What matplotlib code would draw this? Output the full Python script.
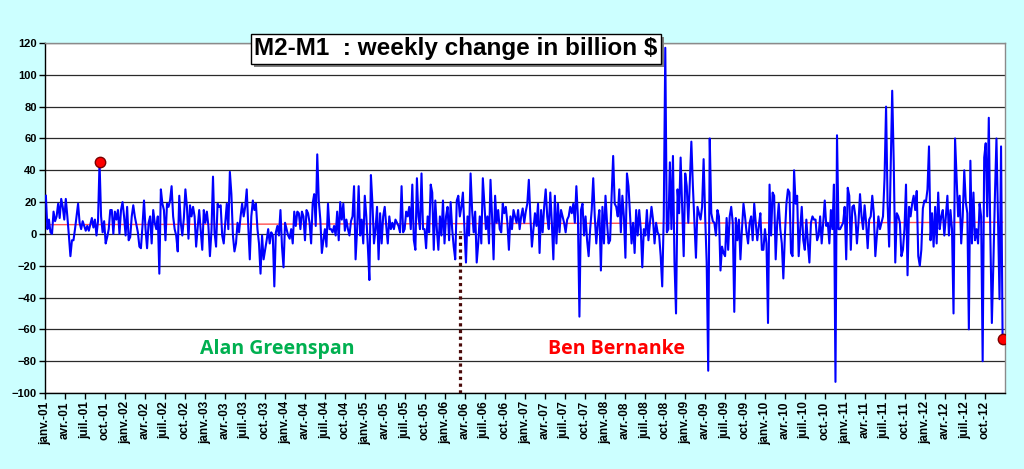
import matplotlib
matplotlib.use('Agg')
import matplotlib.pyplot as plt
import numpy as np
import pandas as pd
from matplotlib.patches import Rectangle
from matplotlib.transforms import IdentityTransform

plt.rcParams['font.family'] = ['Liberation Sans', 'DejaVu Sans']
plt.rcParams['font.weight'] = 'bold'

# ---------------- data (weekly change, billion $) ----------------
seg_2001 = [24, 3, 9, 1, 0, 14, 8, 11, 19, 10, 22, 17, 9, 22, 11, -1, -14, -4, -4, 3,
            11, 19, 7, 3, 8, 5, 2, 5, 2, 6, 10, 4, 9, -1, 8, 45, 11, 1, 8, -6,
            -2, 3, 15, 15, 0, 14, 9, 15, 0, 15, 20, 11, -1, 17, -4, -2, 11, 18, 11, 6,
            1, -8]
seg_2002 = [-9, 5, 21, 3, -9, 7, 11, -6, 15, 7, 3, 11, -25, 28, 19, 15, -4, 19, 17, 21,
            30, 11, 3, -1, -11, 24, 7, -1, 10, 28, 17, -3, 18, 11, 17, 11, -8, 4, 15, 2,
            -10, 15, 7, 14, 5, -14, 2, 36, 1, -8, 19, 17, 18, -1, -6, 7, 19, 3, 39, 25,
            -1, -11]
seg_2003 = [-6, 7, 1, 11, 19, 11, 17, 28, 5, -16, 11, 21, 15, 19, 3, -6, -25, -1, -16, -10,
            -4, 3, -6, 1, -1, -33, 1, 5, -1, 15, -8, -21, 7, 3, -1, -3, 3, -6, 14, 5,
            14, 13, 3, 14, 11, -4, 15, 13, 7, -6, 19, 25, 5, 50, 21, 9, -12, -4, 3, -8,
            19, 3]
seg_2004 = [3, 1, 5, -1, 14, -4, 20, 9, 19, 2, 9, 3, -1, 8, 11, 30, -16, 3, 30, -1,
            9, -6, 24, 11, -8, -29, 37, 19, -6, 3, 17, -16, 13, -6, 11, 17, 5, -6, 11, 3,
            7, 3, 9, 7, 5, 1, 30, 1, 3, 14, 11, 17, 3, 31, -4, -10, 35, 11, 3, 38,
            3, 3]
seg_2005 = [-9, 11, 1, 31, 26, -10, 21, 3, -10, 11, -1, 21, -6, 11, 17, -4, 20, 3, -8, -16,
            21, 24, 11, 17, 26, 3, -18, 11, -1, 38, 15, 1, 14, -18, -6, 11, -6, 35, 19, 3,
            11, -6, 34, 11, -16, 24, 7, 15, 3, 1, 19, 13, 17, 7, -10, 11, 3, 15, 11, 7,
            15, 3]
seg_2006 = [11, 16, 7, 14, 19, 34, 11, -8, 3, 13, 5, 19, -12, 15, 1, 17, 28, 11, 3, 26,
            7, -16, 24, -6, 19, 1, 15, 11, 7, 1, 9, 11, 17, 13, 19, 7, 30, 11, -52, 15,
            19, -1, 11, -4, -14, 3, 15, 35, 11, -6, 7, 15, -23, 17, -6, 24, 7, -6, -4, 24,
            49, 19]
seg_2008 = [17, 11, 28, 1, 24, 11, -15, 38, 30, 12, -6, 7, -12, 15, -1, 15, 3, -21, 3, -1,
            15, -4, 7, 17, 9, -6, 7, 1, -1, -14, -33, 11, 117, 1, 3, 45, 3, 49, -18, -50,
            28, 13, 48, 17, -14, 38, 30, 7, 33, 58, 30, 7, -15, 17, 13, 9, 17, 47, 11, -18,
            -86, 60]
seg_2009 = [13, 8, 7, -1, 15, 11, -23, -8, -12, -14, 10, -10, 11, 17, 7, -49, 10, -4, 9, -16,
            3, 19, 11, 1, -6, 7, 11, -4, 19, 7, -4, 5, 13, -10, -10, 3, -6, -56, 31, -1,
            26, 24, -16, 7, 19, 3, -6, -28, -1, 19, 28, 26, -12, -14, 40, 19, 24, -14, 3, 17,
            -4, -10]
seg_2010 = [9, -6, -18, 7, 11, 9, 9, -4, -1, 11, -6, 7, 21, 5, 7, -6, 15, 3, 31, -93,
            62, 3, 3, 5, 7, 17, -16, 29, 24, -10, 17, 18, 11, -6, 7, 25, 11, 3, 18, 7,
            -9, 9, 11, 24, 13, -14, -1, 11, 3, 7, 11, 35, 80, 19, -8, 40, 90, 45, -18, 13,
            11, 7, -14, -10, 3, 31, -26, 17]
seg_2012 = [11, 19, 24, 15, 27, -14, -20, -10, 16, 21, 20, 28, 55, -4, 13, -8, 17, -6, 26, 3,
            11, 15, -1, 11, 24, -1, 15, 3, -50, 60, 35, 11, 24, -6, 11, 40, 20, 13, -60, 46,
            -6, 26, -4, 3, -6, 19, 11, -80, 48, 57, 11, 73, -1, -56, -18, 24, 60, 11, -41, 55,
            -66]

values = np.array(seg_2001 + seg_2002 + seg_2003 + seg_2004 + seg_2005 + seg_2006 +
                  seg_2008 + seg_2009 + seg_2010 + seg_2012, dtype=float)
first_date = '2001-01-05'
dates = pd.date_range(first_date, periods=len(values), freq='7D')

trend_start, trend_end = 5.8, 7.3          # red reference line
bernanke_date = '2006-03-10'               # dotted separator
fr_months = {1: 'janv.', 4: 'avr.', 7: 'juil.', 10: 'oct.'}
tick_dates = pd.date_range('2001-01-01', '2012-10-01', freq='QS')
tick_labels = [f"{fr_months[d.month]}-{d.year % 100:02d}" for d in tick_dates]
y_ticks = list(range(-100, 121, 20))
title = "M2-M1  : weekly change in billion $"

# ---------------- figure ----------------
fig = plt.figure(figsize=(10.24, 4.69), dpi=100)
fig.patch.set_facecolor('#CCFFFF')
ax = fig.add_axes([45/1024, 76/469, 960/1024, 350/469])
ax.set_facecolor('white')

ax.plot(dates, values, color='#0000FF', lw=1.5, zorder=3)
ax.plot([dates[0], dates[-1]], [trend_start, trend_end], color='#FF5050', lw=1, zorder=2.5)
ax.vlines(pd.Timestamp(bernanke_date), -100, 2, colors='#4B0A0A',
          linestyles=(0, (1, 1.1)), lw=2.3, zorder=4)

spike_idx = int(np.argmax(values[:60]))
last_idx = len(values) - 1
for i in (spike_idx, last_idx):
    ax.plot(dates[i], values[i], 'o', ms=7.5, mfc='#FF0000', mec='#7A0000', mew=1, zorder=5)

ax.set_ylim(-100, 120)
ax.set_yticks(y_ticks)
ax.set_xlim(pd.Timestamp('2001-01-01'), pd.Timestamp('2013-01-01'))
ax.set_xticks(tick_dates)
ax.set_xticklabels(tick_labels, rotation=90, fontsize=8.5, fontweight='bold')
ax.tick_params(axis='x', direction='out', length=4, width=1, pad=2, color='black')
ax.tick_params(axis='y', direction='out', length=4, width=1, pad=2, labelsize=8, color='black')
for lab in ax.get_yticklabels():
    lab.set_fontweight('bold')

ax.set_axisbelow(True)
ax.yaxis.grid(True, color='#2a2a2a', lw=0.9)
ax.xaxis.grid(False)
for s in ('left', 'bottom'):
    ax.spines[s].set_color('black')
    ax.spines[s].set_linewidth(1)
for s in ('top', 'right'):
    ax.spines[s].set_color('#8a8a8a')
    ax.spines[s].set_linewidth(1)

# title box with drop shadow
tx, ty = 456/1024, 1 - 49/469
title_txt = fig.text(tx, ty, title, ha='center', va='center', fontsize=17.5, fontweight='bold',
                     color='black', zorder=10,
                     bbox=dict(boxstyle='square,pad=0.15', fc='white', ec='black', lw=1))
fig.canvas.draw()
bb = title_txt.get_bbox_patch().get_window_extent()
shadow = Rectangle((bb.x0 + 3, bb.y0 - 3), bb.width, bb.height, transform=IdentityTransform(),
                   fc='#808080', ec='none', zorder=9)
fig.add_artist(shadow)

fig.text(277/1024, 1 - 349/469, 'Alan Greenspan', ha='center', va='center',
         fontsize=14, fontweight='bold', color='#00B050', family=['Open Sans', 'DejaVu Sans'])
fig.text(617/1024, 1 - 349/469, 'Ben Bernanke', ha='center', va='center',
         fontsize=14, fontweight='bold', color='#FF0000', family=['Open Sans', 'DejaVu Sans'])

fig.savefig('out.png', dpi=100, facecolor=fig.get_facecolor())
